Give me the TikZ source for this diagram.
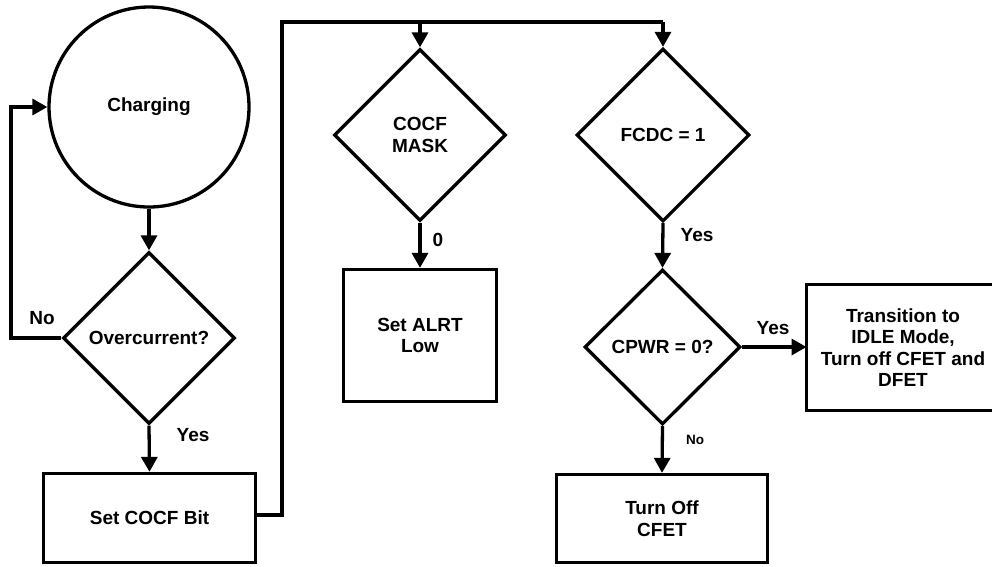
\documentclass[tikz,border=0pt]{standalone}
\usepackage{fontspec}
\setmainfont{Liberation Sans}
\usetikzlibrary{arrows.meta,shapes.geometric}
\begin{document}
\begin{tikzpicture}[x=1pt,y=-1pt,
  line width=3.3pt,
  every node/.style={font=\fontsize{19}{21.5}\selectfont\bfseries},
  arr/.style={-{Triangle[length=15pt,width=16pt]}},
  dec/.style={draw,diamond,aspect=1,inner sep=0pt,align=center},
  blk/.style={draw,rectangle,inner sep=0pt,align=center},
  lbl/.style={inner sep=0pt}]
\useasboundingbox (0,0) rectangle (992,566);
\node[draw,circle,minimum size=200pt,inner sep=0pt] (chg) at (149,107) {Charging};
\node[dec,minimum width=172pt,minimum height=172pt] (oc) at (149,338) {Overcurrent?};
\node[blk,minimum width=212pt,minimum height=89pt] (scb) at (149.5,518) {Set COCF Bit};
\node[dec,minimum width=172pt,minimum height=172pt] (mask) at (420,135) {COCF\\MASK};
\node[blk,minimum width=153pt,minimum height=132pt] (alrt) at (420,335.5) {Set ALRT\\Low};
\node[dec,minimum width=173pt,minimum height=173pt] (fcdc) at (663,135) {FCDC = 1};
\node[dec,minimum width=156pt,minimum height=155pt] (cpwr) at (662.5,347) {CPWR = 0?};
\node[blk,minimum width=211pt,minimum height=88pt] (tof) at (662,518.5) {Turn Off\\CFET};
\node[align=center,inner sep=0pt] (idle) at (903,347.5) {Transition to\\IDLE Mode,\\Turn off CFET and\\DFET};
\coordinate (b1) at (1000,284.5);
\coordinate (b2) at (806.5,284.5);
\coordinate (b3) at (806.5,410.5);
\coordinate (b4) at (1000,410.5);
\draw (b1) -- (b2) -- (b3) -- (b4);
\coordinate (c1) at (11,338);
\coordinate (c2) at (11,107);
\coordinate (c3) at (282,515);
\coordinate (c4) at (282,22);
\coordinate (c5) at (420,22);
\coordinate (c6) at (663,22);
\draw[arr] (chg.south) -- (oc.north);
\draw[arr] (oc.west) -- (c1) -- (c2) -- (chg.west);
\draw[arr] (oc.south) -- (scb.north);
\draw (scb.east |- c3) -- (c3) -- (c4) -- (c6);
\draw[arr] (c6) -- (fcdc.north);
\draw[arr] (c5) -- (mask.north);
\draw[arr] (mask.south) -- (alrt.north);
\draw[arr] (fcdc.south) -- (cpwr.north);
\draw[arr] (cpwr.east) -- (cpwr.east -| b2);
\draw[arr] (cpwr.south) -- (tof.north);
\node[lbl] (lno) at (42,318) {No};
\node[lbl] (lyes1) at (193,435) {Yes};
\node[lbl] (l0) at (438,240) {0};
\node[lbl] (lyes2) at (697,235) {Yes};
\node[lbl] (lyes3) at (773,328) {Yes};
\node[lbl,font=\fontsize{13.5}{16}\selectfont\bfseries] (lno2) at (695,440) {No};
\end{tikzpicture}
\end{document}
